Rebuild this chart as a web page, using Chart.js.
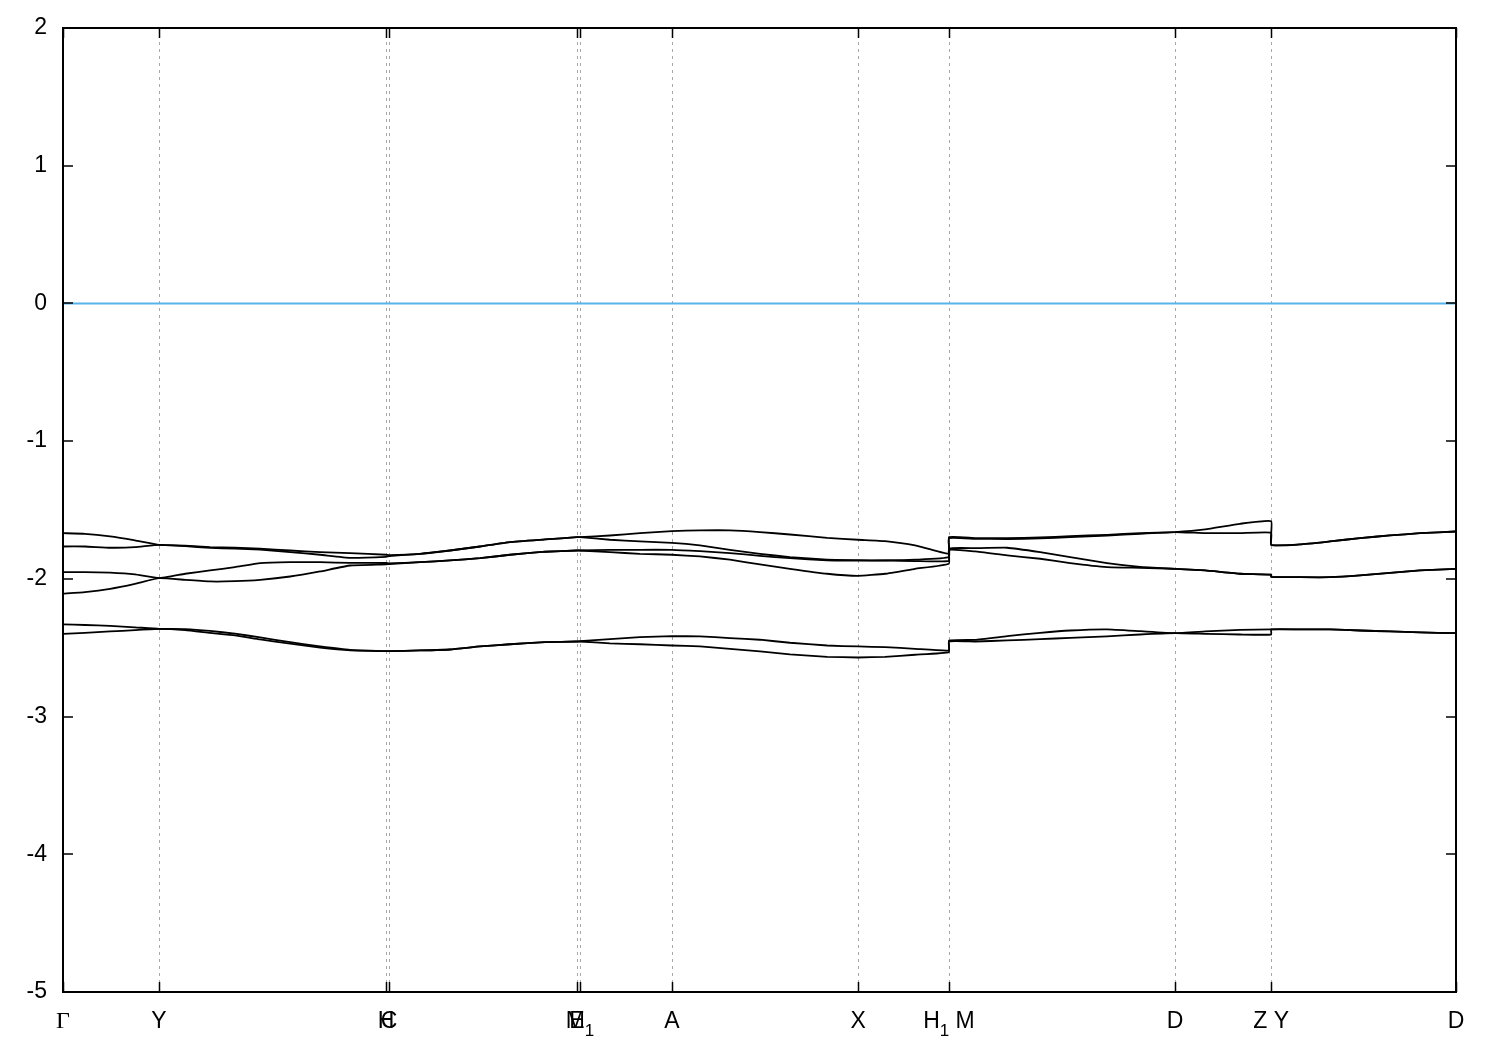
<!DOCTYPE html>
<html>
<head>
<meta charset="utf-8">
<script src="https://cdn.jsdelivr.net/npm/chart.js@4/dist/chart.umd.min.js"></script>
<style>
  html, body { margin: 0; padding: 0; background: #fff; }
  #wrap { width: 1500px; height: 1050px; }
</style>
</head>
<body>
<div id="wrap"><canvas id="bandChart" width="1500" height="1050"></canvas></div>
<script>
// k-path distance (arbitrary units) and band energies (eV)
const kPath = [0, 0.073, 0.157, 0.24, 0.32, 0.407, 0.49, 0.573, 0.657, 0.757, 0.857, 0.957,
  1.077, 1.087, 1.19, 1.29, 1.39, 1.49, 1.607, 1.713, 1.723, 1.823, 1.923, 2.03, 2.123,
  2.223, 2.323, 2.423, 2.547, 2.65, 2.74, 2.84, 2.953, 2.953, 3.04, 3.147, 3.257, 3.357,
  3.48, 3.59, 3.707, 3.807, 3.923, 4.027, 4.027, 4.123, 4.223, 4.323, 4.423, 4.523, 4.643];

const band1 = [-2.399, -2.392, -2.382, -2.372, -2.363, -2.372, -2.392, -2.41, -2.44, -2.47, -2.50, -2.52,
  -2.525, -2.525, -2.52, -2.513, -2.491, -2.475, -2.46, -2.455, -2.455, -2.468, -2.475, -2.484, -2.491,
  -2.508, -2.527, -2.549, -2.566, -2.571, -2.566, -2.551, -2.532, -2.455, -2.455, -2.447, -2.438, -2.428,
  -2.418, -2.404, -2.394, -2.399, -2.404, -2.404, -2.367, -2.367, -2.367, -2.375, -2.382, -2.389, -2.394];
const band2 = [-2.331, -2.335, -2.342, -2.352, -2.363, -2.365, -2.378, -2.398, -2.425, -2.46, -2.49, -2.515,
  -2.525, -2.525, -2.52, -2.513, -2.491, -2.475, -2.46, -2.455, -2.453, -2.437, -2.423, -2.416, -2.418,
  -2.43, -2.442, -2.464, -2.484, -2.491, -2.496, -2.508, -2.52, -2.449, -2.443, -2.416, -2.392, -2.375,
  -2.367, -2.38, -2.394, -2.382, -2.37, -2.367, -2.367, -2.367, -2.367, -2.375, -2.382, -2.389, -2.394];
const band3 = [-2.108, -2.096, -2.072, -2.036, -1.995, -2.007, -2.019, -2.017, -2.007, -1.983, -1.946, -1.903,
  -1.895, -1.892, -1.879, -1.866, -1.85, -1.825, -1.803, -1.794, -1.794, -1.806, -1.818, -1.825, -1.837,
  -1.861, -1.895, -1.927, -1.963, -1.978, -1.963, -1.927, -1.89, -1.79, -1.801, -1.83, -1.854, -1.886,
  -1.915, -1.92, -1.927, -1.939, -1.963, -1.97, -1.985, -1.988, -1.988, -1.975, -1.956, -1.939, -1.927];
const band4 = [-1.951, -1.951, -1.955, -1.968, -1.995, -1.963, -1.939, -1.915, -1.886, -1.879, -1.879, -1.884,
  -1.885, -1.888, -1.879, -1.866, -1.85, -1.825, -1.803, -1.794, -1.794, -1.789, -1.789, -1.789, -1.799,
  -1.813, -1.833, -1.85, -1.866, -1.868, -1.866, -1.871, -1.87, -1.78, -1.777, -1.774, -1.806, -1.842,
  -1.886, -1.913, -1.927, -1.939, -1.963, -1.97, -1.985, -1.988, -1.988, -1.975, -1.956, -1.939, -1.927];
const band5 = [-1.765, -1.765, -1.774, -1.77, -1.753, -1.762, -1.775, -1.781, -1.788, -1.806, -1.825, -1.847,
  -1.84, -1.835, -1.818, -1.794, -1.765, -1.733, -1.714, -1.697, -1.697, -1.716, -1.728, -1.738, -1.757,
  -1.789, -1.818, -1.842, -1.861, -1.864, -1.866, -1.861, -1.842, -1.705, -1.709, -1.711, -1.706, -1.697,
  -1.685, -1.673, -1.66, -1.668, -1.668, -1.665, -1.753, -1.75, -1.728, -1.704, -1.685, -1.668, -1.656];
const band6 = [-1.668, -1.673, -1.692, -1.721, -1.753, -1.758, -1.77, -1.774, -1.781, -1.794, -1.806, -1.813,
  -1.825, -1.828, -1.818, -1.794, -1.765, -1.733, -1.714, -1.697, -1.697, -1.685, -1.668, -1.653, -1.648,
  -1.648, -1.66, -1.678, -1.702, -1.716, -1.726, -1.757, -1.818, -1.697, -1.704, -1.704, -1.699, -1.69,
  -1.68, -1.668, -1.66, -1.641, -1.60, -1.581, -1.753, -1.75, -1.728, -1.704, -1.685, -1.668, -1.656];

// Fermi level
const fermiK = [0, 4.643];
const fermiE = [0, 0];

// high-symmetry points
const kTicks = [0, 0.32, 1.077, 1.087, 1.713, 1.723, 2.03, 2.65, 2.953, 3.707, 4.027, 4.643];
const kLabels = ["Γ", "Y", "H", "C", "E", "M_1", "A", "X", "H_1 M", "D", "Z Y", "D"];

const yTicks = [2, 1, 0, -1, -2, -3, -4, -5];

const bands = [band1, band2, band3, band4, band5, band6];

function toPoints(xs, ys) {
  return xs.map((x, i) => ({ x: x, y: ys[i] }));
}

const datasets = bands.map(b => ({
  data: toPoints(kPath, b),
  borderColor: "#000",
  borderWidth: 1.8,
  pointRadius: 0,
  tension: 0.12,
}));
datasets.push({
  data: toPoints(fermiK, fermiE),
  borderColor: "rgb(86, 180, 233)",
  borderWidth: 2,
  pointRadius: 0,
});

// split "H_1 M" into normal / subscript parts
function parseLabel(s) {
  const parts = [];
  let i = 0;
  while (i < s.length) {
    if (s[i] === "_") {
      parts.push({ t: s[i + 1], sub: true });
      i += 2;
    } else {
      let j = i;
      while (j < s.length && s[j] !== "_") j++;
      parts.push({ t: s.slice(i, j), sub: false });
      i = j;
    }
  }
  return parts;
}

function partFont(p) {
  if (p.t === "Γ") return "24px 'Liberation Serif'";
  return p.sub ? "17px 'Liberation Sans'" : "23px 'Liberation Sans'";
}

// frame, inward ticks, dotted lines and k-point labels (gnuplot look)
const framePlugin = {
  id: "frame",
  beforeDatasetsDraw(chart) {
    const { ctx, chartArea: a, scales } = chart;
    ctx.save();
    ctx.strokeStyle = "#a8a8a8";
    ctx.lineWidth = 1;
    ctx.setLineDash([3, 4]);
    kTicks.forEach(k => {
      const px = Math.round(scales.x.getPixelForValue(k)) + 0.5;
      ctx.beginPath();
      ctx.moveTo(px, a.top);
      ctx.lineTo(px, a.bottom);
      ctx.stroke();
    });
    ctx.restore();
  },
  afterDatasetsDraw(chart) {
    const { ctx, chartArea: a, scales } = chart;
    ctx.save();
    ctx.strokeStyle = "#000";
    ctx.lineWidth = 2;
    ctx.strokeRect(a.left, a.top, a.right - a.left, a.bottom - a.top);
    ctx.lineWidth = 1.5;
    const tl = 10;
    yTicks.forEach(v => {
      const py = Math.round(scales.y.getPixelForValue(v));
      ctx.beginPath();
      ctx.moveTo(a.left, py); ctx.lineTo(a.left + tl, py);
      ctx.moveTo(a.right, py); ctx.lineTo(a.right - tl, py);
      ctx.stroke();
    });
    kTicks.forEach(k => {
      const px = Math.round(scales.x.getPixelForValue(k)) + 0.5;
      ctx.beginPath();
      ctx.moveTo(px, a.top); ctx.lineTo(px, a.top + tl);
      ctx.moveTo(px, a.bottom); ctx.lineTo(px, a.bottom - tl);
      ctx.stroke();
    });

    ctx.fillStyle = "#000";
    ctx.textBaseline = "alphabetic";
    ctx.textAlign = "left";
    const base = a.bottom + 36;
    kTicks.forEach((k, i) => {
      const parts = parseLabel(kLabels[i]);
      let w = 0;
      parts.forEach(p => { ctx.font = partFont(p); p.w = ctx.measureText(p.t).width; w += p.w; });
      let x = scales.x.getPixelForValue(k) - w / 2;
      parts.forEach(p => {
        ctx.font = partFont(p);
        ctx.fillText(p.t, x, p.sub ? base + 8 : base);
        x += p.w;
      });
    });
    ctx.restore();
  },
};

const configBands = {
  type: "line",
  data: { datasets: datasets },
  options: {
    responsive: false,
    animation: false,
    layout: { padding: { top: 28, right: 44, left: 0, bottom: 0 } },
    plugins: { legend: { display: false }, tooltip: { enabled: false } },
    scales: {
      x: {
        type: "linear",
        min: 0,
        max: 4.643,
        grid: { display: false },
        border: { display: false },
        ticks: { display: false },
        afterFit(scale) { scale.height = 58; },
      },
      y: {
        min: -5,
        max: 2,
        grid: { display: false },
        border: { display: false },
        afterBuildTicks(scale) { scale.ticks = yTicks.map(v => ({ value: v })); },
        ticks: {
          color: "#000",
          padding: 8,
          font: { family: "'Liberation Sans'", size: 23 },
        },
        afterFit(scale) { scale.width = 63; },
      },
    },
  },
  plugins: [framePlugin],
};

window.addEventListener("DOMContentLoaded", () => {
  const ctx = document.getElementById("bandChart").getContext("2d");
  new Chart(ctx, configBands);
});
</script>
</body>
</html>
